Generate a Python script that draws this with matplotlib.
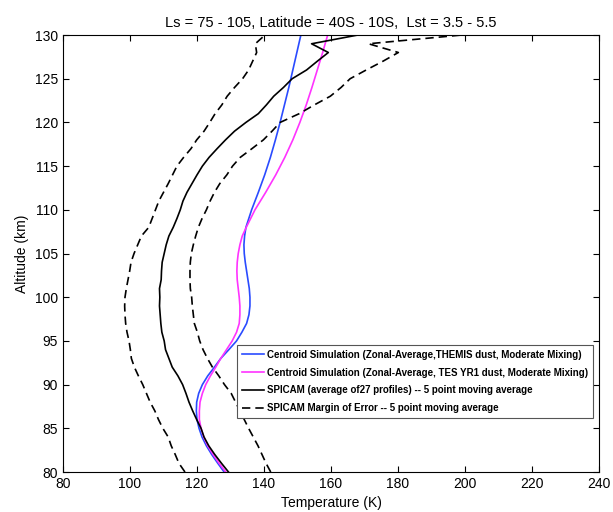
import matplotlib
matplotlib.use("Agg")
import matplotlib.pyplot as plt

plt.rcParams["font.family"] = ["Liberation Sans", "DejaVu Sans"]

# simulated profiles (altitude km, temperature K)
alt_sim = [80, 81, 82, 83, 84, 85, 86, 87, 88, 89, 90, 91, 92, 93, 94, 95, 96, 97, 98,
           99, 100, 101, 102, 103, 104, 105, 106, 107, 108, 110, 112, 114, 116, 118,
           120, 122, 124, 126, 128, 130]
temp_themis = [128.1, 126.2, 124.4, 122.8, 121.5, 120.6, 120.0, 119.8, 119.9, 120.5,
               121.6, 123.2, 125.2, 127.1, 129.5, 131.8, 133.4, 134.8, 135.5, 135.8,
               135.8, 135.6, 135.2, 134.8, 134.4, 134.1, 134.0, 134.2, 134.6, 136.3,
               138.3, 140.2, 141.9, 143.4, 144.8, 146.1, 147.4, 148.6, 149.8, 151.0]
temp_tes = [128.6, 126.6, 124.8, 123.2, 122.0, 121.2, 120.7, 120.7, 120.9, 121.6,
            122.6, 124.0, 125.6, 127.1, 128.8, 130.5, 131.8, 132.6, 132.8, 132.8,
            132.6, 132.3, 132.0, 131.9, 132.0, 132.3, 132.8, 133.5, 134.7, 137.3,
            140.5, 143.5, 146.2, 148.6, 150.7, 152.6, 154.3, 155.9, 157.5, 159.0]

# SPICAM profiles
alt_obs = list(range(80, 131))
temp_spicam = [129.4, 127.3, 125.3, 123.5, 122.1, 121.2, 119.9, 118.7, 117.6, 116.7,
               115.7, 114.3, 112.6, 111.6, 110.6, 110.2, 109.5, 109.2, 109.0, 108.8,
               108.9, 108.8, 109.3, 109.4, 109.6, 110.2, 110.8, 111.6, 112.9, 114.0,
               115.0, 115.8, 117.0, 118.5, 120.0, 121.6, 123.6, 126.0, 128.5, 131.2,
               134.6, 138.3, 140.7, 142.9, 145.8, 148.4, 152.7, 155.9, 159.2, 154.2,
               168.0]
temp_low = [116.4, 114.6, 113.5, 112.3, 111.4, 109.8, 108.5, 107.4, 106.0, 104.9,
            103.8, 102.5, 101.3, 100.4, 100.1, 99.7, 99.1, 98.7, 98.5, 98.4,
            98.5, 98.9, 99.4, 99.9, 100.3, 101.2, 102.3, 103.4, 105.6, 106.6,
            107.6, 108.6, 110.0, 111.4, 112.7, 114.0, 116.0, 118.2, 119.9, 122.1,
            123.8, 125.4, 127.4, 129.0, 131.2, 133.6, 135.4, 136.6, 137.8, 137.4,
            140.3]
temp_high = [142.0, 140.6, 139.4, 138.2, 136.8, 135.4, 134.1, 132.8, 131.5, 130.2,
             128.2, 126.5, 124.6, 123.1, 121.8, 120.8, 120.1, 119.2, 118.9, 118.6,
             118.4, 118.0, 117.9, 117.9, 118.0, 118.3, 118.9, 119.6, 120.4, 121.5,
             122.8, 123.9, 125.2, 126.8, 128.9, 130.6, 132.9, 136.4, 139.8, 142.4,
             144.8, 150.5, 155.0, 159.8, 163.0, 165.7, 170.5, 175.5, 180.1, 171.2,
             199.0]

fig = plt.figure(figsize=(6.13, 5.12), dpi=100)
ax = fig.add_axes([0.1028, 0.0781, 0.8744, 0.8535])

dash = (0, (5, 3))
ax.plot(temp_themis, alt_sim, color="#2a4bff", lw=1.2,
        label="Centroid Simulation (Zonal-Average,THEMIS dust, Moderate Mixing)")
ax.plot(temp_tes, alt_sim, color="#ff33ff", lw=1.2,
        label="Centroid Simulation (Zonal-Average, TES YR1 dust, Moderate Mixing)")
ax.plot(temp_spicam, alt_obs, color="black", lw=1.2,
        label="SPICAM (average of27 profiles) -- 5 point moving average")
ax.plot(temp_low, alt_obs, color="black", lw=1.2, linestyle=dash,
        label="SPICAM Margin of Error -- 5 point moving average")
ax.plot(temp_high, alt_obs, color="black", lw=1.2, linestyle=dash)

ax.set_xlim(80, 240)
ax.set_ylim(80, 130)
ax.set_xticks(range(80, 241, 20))
ax.set_yticks(range(80, 131, 5))
ax.tick_params(direction="in", top=True, right=True, labelsize=10, length=4)
ax.set_xlabel("Temperature (K)", fontsize=10)
ax.set_ylabel("Altitude (km)", fontsize=10)
ax.set_title("Ls = 75 - 105, Latitude = 40S - 10S,  Lst = 3.5 - 5.5", fontsize=10.5)

leg = ax.legend(loc="upper left", bbox_to_anchor=(0.3246, 0.2906),
                borderaxespad=0,
                prop={"size": 7.0, "weight": "bold"}, handlelength=2.3,
                handletextpad=0.3, borderpad=0.5, labelspacing=0.8,
                fancybox=False, framealpha=1)
leg.get_frame().set_edgecolor("#555555")
leg.get_frame().set_linewidth(0.8)

fig.savefig("out.png", dpi=100)
